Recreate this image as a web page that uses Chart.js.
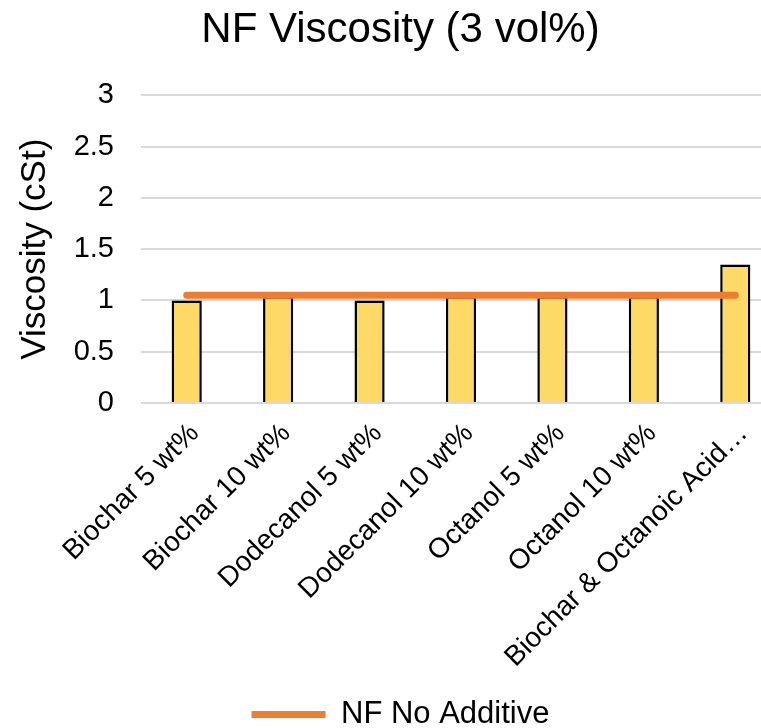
<!DOCTYPE html>
<html>
<head>
<meta charset="utf-8">
<script src="https://cdn.jsdelivr.net/npm/chart.js@4"></script>
<style>
  html, body { margin: 0; padding: 0; background: #fff; overflow: hidden; }
  #wrap { width: 800px; height: 728px; }
</style>
</head>
<body>
<div id="wrap"><canvas id="myChart" width="800" height="728"></canvas></div>
<script>
const categories = ['Biochar 5 wt%', 'Biochar 10 wt%', 'Dodecanol 5 wt%', 'Dodecanol 10 wt%',
    'Octanol 5 wt%', 'Octanol 10 wt%', 'Biochar & Octanoic Acid…'];
const viscosity = [1.00, 1.04, 1.00, 1.04, 1.04, 1.04, 1.35];
const noAdditive = [1.05, 1.05, 1.05, 1.05, 1.05, 1.05, 1.05];
const yTicks = [0, 0.5, 1, 1.5, 2, 2.5, 3];

const font = 'Liberation Sans, Arial, sans-serif';
const ctx = document.getElementById('myChart');

new Chart(ctx, {
    data: {
        labels: categories,
        datasets: [{
            type: 'line',
            label: 'NF No Additive',
            data: noAdditive,
            borderColor: '#ED7D31',
            backgroundColor: '#ED7D31',
            borderWidth: 7,
            borderCapStyle: 'round',
            pointRadius: 0,
            order: 0
        }, {
            type: 'bar',
            label: 'Viscosity',
            data: viscosity,
            backgroundColor: '#FFD966',
            borderColor: '#000000',
            borderWidth: 2.5,
            barPercentage: 0.33,
            categoryPercentage: 1,
            order: 1
        }]
    },
    options: {
        responsive: false,
        animation: false,
        layout: { padding: { left: 20, right: 19, top: 0, bottom: -12 } },
        plugins: {
            title: {
                display: true,
                text: 'NF Viscosity (3 vol%)',
                color: '#000',
                font: { family: font, size: 42, weight: 'normal' },
                padding: { top: 5, bottom: 40 }
            },
            legend: {
                position: 'bottom',
                labels: {
                    filter: (item) => item.datasetIndex === 0,
                    usePointStyle: true,
                    pointStyle: 'line',
                    pointStyleWidth: 74,
                    color: '#000',
                    font: { family: font, size: 31 },
                    padding: 4
                }
            },
            tooltip: { enabled: false }
        },
        scales: {
            x: {
                grid: { display: false },
                border: { display: false },
                ticks: {
                    color: '#000',
                    font: { family: font, size: 28 },
                    maxRotation: 45,
                    minRotation: 45,
                    autoSkip: false,
                    padding: 6,
                    labelOffset: 8
                },
                afterFit: (scale) => { scale.height = 292; }
            },
            y: {
                min: 0,
                max: 3,
                afterBuildTicks: (scale) => { scale.ticks = yTicks.map(v => ({ value: v })); },
                grid: { color: '#D9D9D9', lineWidth: 2, drawTicks: false },
                border: { display: false },
                ticks: {
                    color: '#000',
                    font: { family: font, size: 29 },
                    padding: 27,
                    callback: (v) => String(v)
                },
                title: {
                    display: true,
                    text: 'Viscosity (cSt)',
                    color: '#000',
                    font: { family: font, size: 35 },
                    padding: { top: -6, bottom: 0 }
                },
                afterFit: (scale) => { scale.width = 121; }
            }
        }
    }
});
</script>
</body>
</html>
